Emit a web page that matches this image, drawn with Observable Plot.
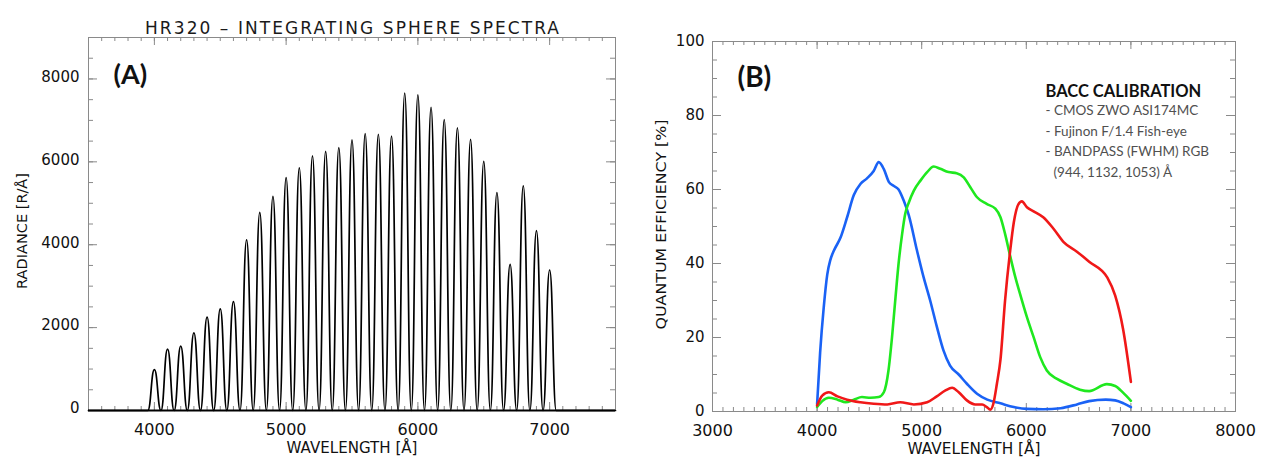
<!DOCTYPE html>
<html><head><meta charset="utf-8">
<script src="https://cdn.jsdelivr.net/npm/d3@7"></script>
<script src="https://cdn.jsdelivr.net/npm/@observablehq/plot@0.6"></script>
<style>
body{margin:0;background:#fff;}
#wrap{position:relative;width:1264px;height:461px;overflow:hidden;background:#fff;}
#a{position:absolute;left:0;top:0;}
#b{position:absolute;left:640px;top:0;}
</style></head><body><div id="wrap"><div id="a"></div><div id="b"></div></div>
<script>
// ---------- Panel A data: integrating sphere spectra ----------
const peakWavelength = [4000,4100,4200,4300,4400,4500,4600,4700,4800,4900,5000,5100,5200,5300,5400,5500,5600,5700,5800,5900,6000,6100,6200,6300,6400,6500,6600,6700,6800,6900,7000];
const peakRadiance = [985,1480,1555,1875,2255,2450,2625,4120,4780,5165,5620,5855,6145,6250,6345,6530,6680,6665,6620,7660,7615,7315,7020,6820,6540,6010,5260,3525,5420,4340,3390];
const peakHalfWidth = 50;           // spectrum returns to 0 between neighbouring peaks
const aXLabels = [4000,5000,6000,7000];
const aYLabels = [0,2000,4000,6000,8000];
const aTitle = "HR320 – INTEGRATING SPHERE SPECTRA";
const aYTitle = "RADIANCE [R/Å]";
const xTitle = "WAVELENGTH [Å]";

// ---------- Panel B data: quantum efficiency ----------
const blueWavelength = [4000,4029,4063,4097,4127,4161,4224,4287,4351,4414,4477,4541,4589,4638,4687,4731,4779,4828,4877,4955,5018,5081,5144,5208,5271,5354,5432,5529,5627,5753,5880,6006,6162,6328,6484,6601,6760,6850,6930,7000];
const blueQE = [2,16,28,37,41,43.5,47,52.5,58.5,61.5,63,65,67.4,65.5,62,61,60,57,53,43.5,36.3,30,23,16.5,12.4,10,7.5,4.8,3.2,2.2,1.2,0.7,0.6,0.9,1.9,2.8,3.2,3.0,2.2,1.2];
const greenWavelength = [4000,4049,4112,4195,4273,4351,4429,4511,4589,4638,4682,4716,4750,4779,4813,4843,4877,4925,4988,5052,5115,5178,5256,5334,5402,5465,5529,5621,5704,5753,5797,5846,5895,5938,6006,6070,6133,6196,6294,6386,6513,6601,6770,6850,6925,7000];
const greenQE = [1.2,2.8,3.7,3.2,2.5,3.2,3.9,3.7,3.9,5.2,11,20,31,40,48,53.5,56.5,59.7,62.4,64.7,66.2,65.6,64.7,64.4,63.3,60.6,57.9,56.1,54.8,52.5,48,42,36.3,32,25.5,20.1,14.7,11.1,8.8,7.5,5.9,5.5,7.4,6.9,5.1,2.9];
const redWavelength = [4000,4049,4112,4195,4287,4414,4541,4672,4794,4925,5052,5144,5227,5291,5354,5432,5510,5578,5622,5656,5685,5719,5753,5797,5846,5880,5924,5958,6006,6070,6162,6260,6357,6484,6601,6775,6850,6925,7000];
const redQE = [1.6,4.3,5.2,4.1,3.2,2.5,2.1,1.9,2.5,1.9,2.5,4.1,5.7,6.4,5.2,3.0,1.9,1.9,1.2,0.5,2.1,7.5,14,30,43.5,51,56,56.8,55.2,54.1,52.5,49.4,45.8,43.2,40.5,36.2,31.3,22.3,8];
const bXLabels = [3000,4000,5000,6000,7000,8000];
const bYLabels = [0,20,40,60,80,100];
const bYTitle = "QUANTUM EFFICIENCY [%]";
const annotationTitle = "BACC CALIBRATION";
const annotationLines = ["- CMOS ZWO ASI174MC","- Fujinon F/1.4 Fish-eye","- BANDPASS (FWHM) RGB","(944, 1132, 1053) Å"];

// ---------- helpers ----------
const gray = "#8a8a8a";
function frameTicks(xs, ys, fw, fh, xLen, yLen) {
  return [
    Plot.tickX(xs, {x: d => d, stroke: gray, insetTop: fh - xLen}),
    Plot.tickX(xs, {x: d => d, stroke: gray, insetBottom: fh - xLen}),
    Plot.tickY(ys, {y: d => d, stroke: gray, insetRight: fw - yLen}),
    Plot.tickY(ys, {y: d => d, stroke: gray, insetLeft: fw - yLen})
  ];
}
function fitText(chart, content, length, adjust) {
  d3.select(chart).selectAll("text").filter(function() { return this.textContent === content; })
    .attr("textLength", length).attr("lengthAdjust", adjust);
}

// ---------- Panel A ----------
{
  const W = 640, H = 461, mL = 88, mR = 25, mT = 37, mB = 51;
  const fw = W - mL - mR, fh = H - mT - mB;
  const spec = [{x: 3500, y: 0}];
  peakWavelength.forEach((c, i) => {
    spec.push({x: c - peakHalfWidth, y: 0}, {x: c, y: peakRadiance[i]});
  });
  spec.push({x: peakWavelength[peakWavelength.length - 1] + peakHalfWidth, y: 0}, {x: 7500, y: 0});
  const xMinor = d3.range(3500, 7501, 100), yMinor = d3.range(0, 9001, 500);
  const chart = Plot.plot({
    width: W, height: H, marginLeft: mL, marginRight: mR, marginTop: mT, marginBottom: mB,
    style: {fontFamily: "DejaVu Sans", fontSize: "15px", background: "white", color: "#111"},
    x: {domain: [3500, 7500], label: null},
    y: {domain: [0, 9000], label: null},
    marks: [
      Plot.frame({stroke: gray}),
      ...frameTicks(xMinor, yMinor, fw, fh, 4, 5),
      ...frameTicks(aXLabels, aYLabels, fw, fh, 8, 9),
      Plot.axisX({ticks: aXLabels, tickSize: 0, tickPadding: 13, tickFormat: d => String(d), label: null, fontSize: 16}),
      Plot.axisY({ticks: aYLabels, tickSize: 0, tickPadding: 9, dy: -2, tickFormat: d => String(d), label: null, fontSize: 15}),
      Plot.line(spec, {x: "x", y: "y", curve: "bump-x", stroke: "black", strokeWidth: 1.7}),
      Plot.ruleY([0], {stroke: "black", strokeWidth: 2.2}),
      Plot.text([aTitle], {text: d => d, frameAnchor: "top", dy: -16, fontSize: 17, fill: "#1a1a1a"}),
      Plot.text(["(A)"], {text: d => d, frameAnchor: "top-left", dx: 25, dy: 27, textAnchor: "start", fontSize: 27, fontWeight: "bold", fontFamily: "Lato"}),
      Plot.text([aYTitle], {text: d => d, frameAnchor: "left", textAnchor: "middle", dx: -66, dy: 7, rotate: -90, fontSize: 13.5}),
      Plot.text([xTitle], {text: d => d, frameAnchor: "bottom", dy: 42, fontSize: 16.5})
    ]
  });
  fitText(chart, aTitle, 414, "spacing");
  fitText(chart, aYTitle, 116, "spacingAndGlyphs");
  fitText(chart, xTitle, 131, "spacingAndGlyphs");
  document.getElementById("a").append(chart);
}

// ---------- Panel B ----------
{
  const W = 624, H = 461, mL = 72, mR = 29, mT = 41, mB = 50;
  const fw = W - mL - mR, fh = H - mT - mB;
  const series = [
    {wl: blueWavelength, qe: blueQE, color: "#1a62f5"},
    {wl: greenWavelength, qe: greenQE, color: "#1fe81f"},
    {wl: redWavelength, qe: redQE, color: "#f01818"}
  ];
  const xMinor = d3.range(3000, 8001, 100), yMinor = d3.range(0, 101, 5);
  const lineDy = [64, 84.5, 105, 125.5];
  const lineDx = [333, 333, 333, 341];
  const chart = Plot.plot({
    width: W, height: H, marginLeft: mL, marginRight: mR, marginTop: mT, marginBottom: mB,
    style: {fontFamily: "DejaVu Sans", fontSize: "15px", background: "white", color: "#111"},
    x: {domain: [3000, 8000], label: null},
    y: {domain: [0, 100], label: null},
    marks: [
      Plot.frame({stroke: gray}),
      ...frameTicks(xMinor, yMinor, fw, fh, 4, 5),
      ...frameTicks(bXLabels, bYLabels, fw, fh, 8, 9),
      Plot.axisX({ticks: bXLabels, tickSize: 0, tickPadding: 13, tickFormat: d => String(d), label: null, fontSize: 16}),
      Plot.axisY({ticks: bYLabels, tickSize: 0, tickPadding: 8, tickFormat: d => String(d), label: null, fontSize: 15}),
      ...series.map(s => Plot.line(s.wl, {x: d => d, y: (d, i) => s.qe[i], curve: "monotone-x", stroke: s.color, strokeWidth: 2.6})),
      Plot.text(["(B)"], {text: d => d, frameAnchor: "top-left", dx: 25, dy: 26, textAnchor: "start", fontSize: 28, fontWeight: "bold", fontFamily: "Lato"}),
      Plot.text([annotationTitle], {text: d => d, frameAnchor: "top-left", dx: 333, dy: 44, textAnchor: "start", fontSize: 16.5, fontWeight: "bold", fontFamily: "Lato", fill: "#111"}),
      ...annotationLines.map((t, i) => Plot.text([t], {text: d => d, frameAnchor: "top-left", dx: lineDx[i], dy: lineDy[i], textAnchor: "start", fontSize: 13.5, fontFamily: "Lato", fill: "#505050"})),
      Plot.text([bYTitle], {text: d => d, frameAnchor: "left", textAnchor: "middle", dx: -51, dy: -2, rotate: -90, fontSize: 14}),
      Plot.text([xTitle], {text: d => d, frameAnchor: "bottom", dy: 42, fontSize: 16.5})
    ]
  });
  fitText(chart, bYTitle, 210, "spacingAndGlyphs");
  fitText(chart, xTitle, 133, "spacingAndGlyphs");
  document.getElementById("b").append(chart);
}
</script></body></html>
